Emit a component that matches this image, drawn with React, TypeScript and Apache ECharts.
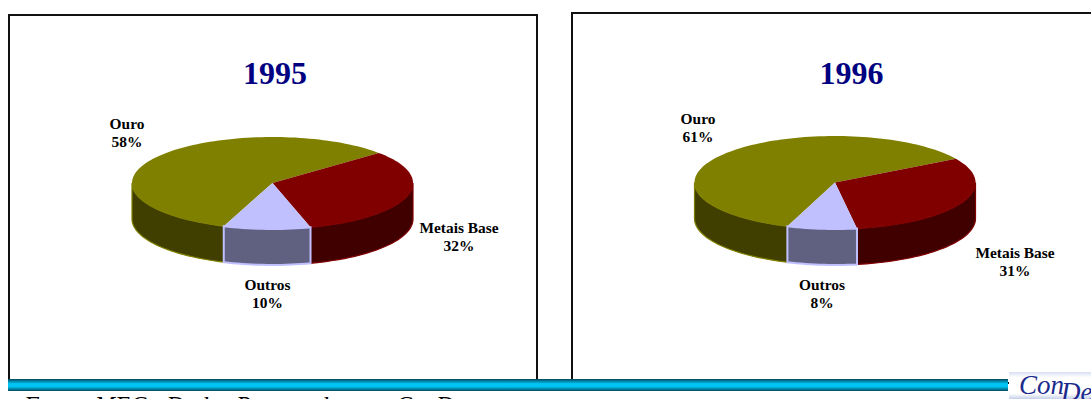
import React, { useEffect, useRef } from "react";
import * as echarts from "echarts";

const WIDTH = 1091;
const HEIGHT = 399;

// Mining exploration budget shares by metal group
const categories = ["Ouro", "Metais Base", "Outros"];
const shares1995 = [58, 32, 10];
const shares1996 = [61, 31, 8];
const years = ["1995", "1996"];
const sourceNote = "Fonte: MEC - Dados Preparados por ConDes";

const topColors = ["#808000", "#800000", "#c0c0ff"];
const wallColors = ["#403f00", "#400000", "#606080"];
const SERIF = '"Liberation Serif", "Times New Roman", serif';

type PieLayout = {
  cx: number;
  cy: number;
  rx: number;
  ry: number;
  depth: number;
  startAngle: number;
  labels: [number, number][];
};

const layout1995: PieLayout = {
  cx: 272.5, cy: 183, rx: 140.5, ry: 46, depth: 36, startAngle: 200.3,
  labels: [[127, 114], [459, 218], [267.5, 275]],
};
const layout1996: PieLayout = {
  cx: 835, cy: 182.5, rx: 140.5, ry: 46.5, depth: 36, startAngle: 199.8,
  labels: [[698, 109], [1015, 243], [822, 275]],
};

// Point on the tilted rim; angles run clockwise from twelve o'clock.
function rimPoint(p: PieLayout, deg: number, drop = 0): number[] {
  const a = (deg * Math.PI) / 180;
  return [p.cx + p.rx * Math.sin(a), p.cy - p.ry * Math.cos(a) + drop];
}

function arcPoints(p: PieLayout, from: number, to: number, drop = 0): number[][] {
  const n = Math.max(2, Math.ceil(Math.abs(to - from) / 2));
  const pts: number[][] = [];
  for (let i = 0; i <= n; i++) pts.push(rimPoint(p, from + ((to - from) * i) / n, drop));
  return pts;
}

// Only the part of a slice facing the viewer (90°–270°) shows a side wall.
function wallShapes(p: PieLayout, from: number, to: number, index: number) {
  const shapes: any[] = [];
  for (let k = -1; k <= 1; k++) {
    const lo = Math.max(from, 90 + 360 * k);
    const hi = Math.min(to, 270 + 360 * k);
    if (hi <= lo) continue;
    shapes.push({
      type: "polygon",
      shape: {
        points: [...arcPoints(p, lo, hi), ...arcPoints(p, hi, lo, p.depth)],
      },
      style: {
        fill: wallColors[index],
        stroke: topColors[index],
        lineWidth: index === 2 ? 2 : 1.2,
      },
    });
  }
  return shapes;
}

function pieSeries(values: number[], p: PieLayout) {
  const total = values.reduce((s, v) => s + v, 0);
  return {
    type: "custom",
    coordinateSystem: "none",
    silent: true,
    data: values,
    renderItem(params: any, api: any) {
      const i = params.dataIndex;
      const before = values.slice(0, i).reduce((s, v) => s + v, 0);
      const from = p.startAngle + (before / total) * 360;
      const to = from + (api.value(0) / total) * 360;
      const [lx, ly] = p.labels[i];
      return {
        type: "group",
        children: [
          ...wallShapes(p, from, to, i),
          {
            type: "polygon",
            shape: { points: [[p.cx, p.cy], ...arcPoints(p, from, to)] },
            style: { fill: topColors[i] },
          },
          {
            type: "text",
            x: lx,
            y: ly,
            style: {
              text: categories[i] + "\n" + api.value(0) + "%",
              x: 0,
              y: 0,
              fill: "#000000",
              font: `bold 15.4px ${SERIF}`,
              align: "center",
              verticalAlign: "top",
              lineHeight: 18,
            },
          },
        ],
      };
    },
  };
}

function frame(x: number, y: number, w: number, h: number) {
  return {
    type: "rect",
    shape: { x, y, width: w, height: h },
    style: { fill: "#ffffff", stroke: "#111111", lineWidth: 2 },
    z: 0,
  };
}

function title(text: string, x: number, y: number) {
  return {
    type: "text",
    x,
    y,
    style: {
      text,
      font: `bold 32px ${SERIF}`,
      fill: "#000080",
      align: "center",
      verticalAlign: "middle",
    },
    z: 5,
  };
}

const option = {
  animation: false,
  backgroundColor: "#ffffff",
  graphic: [
    frame(9, 15, 528, 368),
    frame(572, 13, 530, 370),
    title(years[0], 275, 72.5),
    title(years[1], 851.5, 72.5),
    {
      type: "rect",
      shape: { x: 8, y: 379, width: 1000, height: 12 },
      style: {
        fill: new echarts.graphic.LinearGradient(0, 0, 0, 1, [
          { offset: 0, color: "#00485c" },
          { offset: 0.4, color: "#00c8f8" },
          { offset: 0.65, color: "#00c0ee" },
          { offset: 1, color: "#004c60" },
        ]),
      },
      z: 6,
    },
    {
      type: "text",
      x: 24,
      y: 393,
      style: {
        text: sourceNote,
        font: `italic 24.3px ${SERIF}`,
        fill: "#000000",
        align: "left",
        verticalAlign: "top",
      },
      z: 6,
    },
    {
      type: "rect",
      shape: { x: 1009, y: 372, width: 82, height: 27 },
      style: {
        fill: new echarts.graphic.LinearGradient(0, 0, 0, 1, [
          { offset: 0, color: "#d8dff2" },
          { offset: 0.2, color: "#ffffff" },
          { offset: 0.8, color: "#ffffff" },
          { offset: 1, color: "#c4cfe8" },
        ]),
      },
      z: 6,
    },
    {
      type: "text",
      x: 1019,
      y: 371,
      style: {
        text: "Con",
        font: `italic 27px ${SERIF}`,
        fill: "#1a2a8c",
        align: "left",
        verticalAlign: "top",
      },
      z: 7,
    },
    {
      type: "text",
      x: 1061,
      y: 378,
      style: {
        text: "Des",
        font: `italic 27px ${SERIF}`,
        fill: "#1a2a8c",
        align: "left",
        verticalAlign: "top",
      },
      z: 7,
    },
  ],
  series: [pieSeries(shares1995, layout1995), pieSeries(shares1996, layout1996)],
};

export default function App() {
  const ref = useRef<HTMLDivElement>(null);
  useEffect(() => {
    const chart = echarts.init(ref.current!, undefined, { renderer: "svg" });
    chart.setOption(option as any);
    return () => chart.dispose();
  }, []);
  return (
    <div
      ref={ref}
      style={{ position: "fixed", left: 0, top: 0, width: WIDTH, height: HEIGHT }}
    />
  );
}
